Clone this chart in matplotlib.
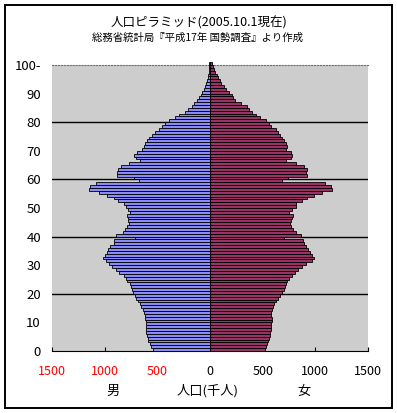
import matplotlib.pyplot as plt
from matplotlib.patches import Rectangle

plt.rcParams['font.family'] = ['Noto Sans CJK JP', 'DejaVu Sans']

# population by single year of age, thousands (age 0 .. 100+)
ages = list(range(101))
male = [540, 558, 573, 585, 592, 600, 605, 607, 607, 607,
        610, 613, 615, 622, 636, 652, 668, 685, 700, 715,
        730, 745, 750, 760, 785, 800, 820, 860, 890, 930,
        960, 992, 1014, 998, 982, 967, 945, 914, 910, 715,
        890, 830, 805, 790, 770, 780, 778, 790, 762, 778,
        800, 816, 872, 913, 976, 1052, 1147, 1140, 1084, 674,
        724, 885, 879, 873, 847, 769, 668, 706, 720, 695,
        650, 630, 615, 600, 578, 550, 520, 488, 455, 423,
        385, 330, 290, 242, 205, 175, 150, 127, 107, 88,
        74, 60, 48, 38, 30, 23, 17, 13, 9, 6, 5]
female = [518, 532, 545, 555, 562, 569, 572, 576, 578, 580,
          585, 585, 578, 580, 588, 595, 610, 626, 642, 660,
          685, 705, 715, 722, 730, 750, 780, 810, 835, 870,
          915, 970, 986, 970, 948, 929, 907, 891, 885, 702,
          866, 813, 791, 772, 759, 772, 781, 784, 750, 781,
          813, 813, 876, 923, 986, 1062, 1159, 1153, 1096, 687,
          743, 917, 907, 923, 891, 819, 718, 772, 781, 765,
          725, 730, 722, 705, 685, 665, 642, 626, 580, 556,
          531, 470, 436, 400, 373, 351, 290, 240, 215, 205,
          183, 152, 130, 107, 95, 76, 63, 47, 38, 25, 20]

x_ticks = [-1500, -1000, -500, 0, 500, 1000, 1500]
x_labels = ['1500', '1000', '500', '0', '500', '1000', '1500']
y_ticks = [0, 10, 20, 30, 40, 50, 60, 70, 80, 90, 100]
y_labels = ['0', '10', '20', '30', '40', '50', '60', '70', '80', '90', '100-']
grid_ages = [20, 40, 60, 80]

title = '人口ピラミッド(2005.10.1現在)'
subtitle = '総務省統計局『平成17年 国勢調査』より作成'

W, H = 397, 413
fig = plt.figure(figsize=(W / 100, H / 100), dpi=100)
fig.patch.set_facecolor('white')
fig.patches.append(Rectangle((4.5 / W, 1 - 408 / H), 387 / W, 403.5 / H,
                             transform=fig.transFigure, fill=False,
                             edgecolor='black', linewidth=1.4))

ax = fig.add_axes([52 / W, 1 - 351 / H, 316 / W, 286 / H])
ax.set_facecolor('#CDCDCD')

ax.barh(ages, [-m for m in male], height=1.0, color='#8A8AF8',
        edgecolor='black', linewidth=0.6, zorder=3, clip_on=False)
ax.barh(ages, female, height=1.0, color='#993366',
        edgecolor='black', linewidth=0.6, zorder=3, clip_on=False)

for g in grid_ages:
    ax.axhline(g - 0.5, color='black', linewidth=1.0, zorder=2)

ax.set_xlim(-1500, 1500)
ax.set_ylim(-0.5, 99.5)

ax.set_xticks(x_ticks)
ax.set_xticklabels(x_labels, fontsize=9)
for lbl, t in zip(ax.get_xticklabels(), x_ticks):
    lbl.set_color('red' if t < 0 else 'black')
ax.tick_params(axis='x', direction='in', length=3, pad=10)

ax.set_yticks([t - 0.5 for t in y_ticks])
ax.set_yticklabels(y_labels, fontsize=9.5)
ax.tick_params(axis='y', length=0, pad=8)

ax.spines['left'].set_visible(False)
ax.spines['right'].set_visible(False)
ax.spines['top'].set_color('#707070')
ax.spines['top'].set_linestyle(':')
ax.spines['bottom'].set_color('black')

fig.text(199 / W, 1 - 23 / H, title, ha='center', va='center', fontsize=9)
fig.text(197 / W, 1 - 38 / H, subtitle, ha='center', va='center', fontsize=7.5)

fig.text(113 / W, 1 - 391 / H, '男', ha='center', va='center', fontsize=9.5)
fig.text(208 / W, 1 - 391 / H, '人口(千人)', ha='center', va='center', fontsize=9.5)
fig.text(304 / W, 1 - 391 / H, '女', ha='center', va='center', fontsize=9.5)

fig.savefig('out.png', dpi=100)
